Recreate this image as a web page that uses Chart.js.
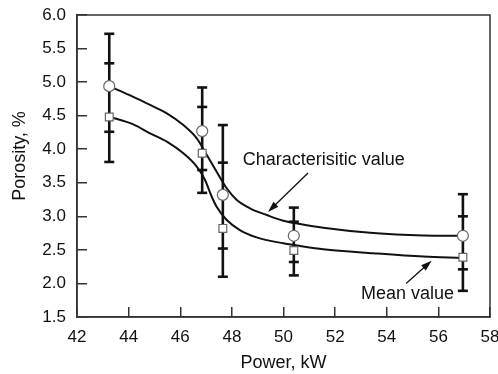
<!DOCTYPE html>
<html>
<head>
<meta charset="utf-8">
<script src="https://cdn.jsdelivr.net/npm/chart.js@4.4.1/dist/chart.umd.min.js"></script>
<style>
  html, body { margin: 0; padding: 0; background: #fff; }
  #wrap { width: 498px; height: 374px; }
</style>
</head>
<body>
<div id="wrap"><canvas id="chart" width="498" height="374"></canvas></div>
<script>
'use strict';

//
// Data
//

var power = [43.25, 46.85, 47.65, 50.4, 56.95];
var characteristic = [4.94, 4.27, 3.32, 2.71, 2.71];
var mean = [4.48, 3.94, 2.82, 2.49, 2.39];

// error bar ends
var charLow = [4.26, 3.69, 2.52, 2.32, 2.21];
var charHigh = [5.72, 4.92, 4.36, 3.13, 3.33];
var meanLow = [3.81, 3.35, 2.10, 2.12, 1.89];
var meanHigh = [5.28, 4.63, 3.80, 2.92, 3.00];

// fitted curves
var charCurveX = [43.24, 44.18, 44.83, 45.48, 46.12, 46.64, 47.03, 47.41, 47.80, 48.19, 48.70, 49.35, 49.99, 50.64, 51.54, 53.48, 55.42, 56.9];
var charCurve = [4.94, 4.78, 4.66, 4.535, 4.36, 4.163, 3.914, 3.665, 3.418, 3.243, 3.12, 3.02, 2.935, 2.886, 2.83, 2.75, 2.715, 2.71];
var meanCurveX = [43.24, 44.18, 44.83, 45.48, 46.12, 46.64, 46.96, 47.22, 47.41, 47.80, 48.31, 48.96, 49.99, 50.64, 51.54, 53.48, 55.42, 56.9];
var meanCurve = [4.485, 4.37, 4.237, 4.113, 3.939, 3.74, 3.541, 3.292, 3.143, 2.945, 2.796, 2.687, 2.598, 2.558, 2.51, 2.45, 2.40, 2.38];

var xTicks = [42, 44, 46, 48, 50, 52, 54, 56, 58];
var yTicks = [1.5, 2.0, 2.5, 3.0, 3.5, 4.0, 4.5, 5.0, 5.5, 6.0];

// annotations
var noteText = ['Characterisitic value', 'Mean value'];
var noteX = [48.42, 53.0];
var noteY = [3.765, 1.77];
var arrowFrom = [[50.95, 3.646], [54.75, 2.00]];
var arrowTo = [[49.40, 3.065], [55.74, 2.34]];

var FONT = "'Liberation Sans', Arial, sans-serif";
var INK = '#111';

function pts(xs, ys) {
	return xs.map(function(x, i) { return { x: x, y: ys[i] }; });
}

// markers on top, then curves, then error bars
var datasets = [
	{
		data: pts(power, characteristic),
		pointStyle: 'circle',
		pointRadius: 5.5,
		pointBorderWidth: 1.2,
		pointBorderColor: '#666',
		pointBackgroundColor: '#fff',
		showLine: false
	},
	{
		data: pts(power, mean),
		pointStyle: 'rect',
		pointRadius: 5.5,
		pointBorderWidth: 1.2,
		pointBorderColor: '#666',
		pointBackgroundColor: '#fff',
		showLine: false
	},
	{
		data: pts(charCurveX, charCurve),
		showLine: true,
		borderColor: INK,
		borderWidth: 2,
		pointRadius: 0,
		cubicInterpolationMode: 'monotone'
	},
	{
		data: pts(meanCurveX, meanCurve),
		showLine: true,
		borderColor: INK,
		borderWidth: 2,
		pointRadius: 0,
		cubicInterpolationMode: 'monotone'
	}
];

power.forEach(function(x, i) {
	var ys = [meanLow[i], charLow[i], meanHigh[i], charHigh[i]].sort(function(a, b) { return a - b; });
	datasets.push({
		data: ys.map(function(y) { return { x: x, y: y }; }),
		showLine: true,
		borderColor: INK,
		borderWidth: 2.6,
		pointStyle: 'line',
		pointRadius: 5,
		pointBorderWidth: 2.6,
		pointBorderColor: INK
	});
});

// frame, annotations and the y title
var extras = {
	id: 'extras',
	afterDatasetsDraw: function(chart) {
		var ctx = chart.ctx;
		var a = chart.chartArea;
		var sx = chart.scales.x, sy = chart.scales.y;

		ctx.save();
		ctx.strokeStyle = '#333';
		ctx.lineWidth = 1.5;
		ctx.strokeRect(a.left, a.top, a.right - a.left, a.bottom - a.top);

		ctx.fillStyle = INK;
		ctx.strokeStyle = INK;
		ctx.font = '18px ' + FONT;
		ctx.textBaseline = 'alphabetic';
		ctx.textAlign = 'left';
		noteText.forEach(function(t, i) {
			ctx.fillText(t, sx.getPixelForValue(noteX[i]), sy.getPixelForValue(noteY[i]));

			var x0 = sx.getPixelForValue(arrowFrom[i][0]), y0 = sy.getPixelForValue(arrowFrom[i][1]);
			var x1 = sx.getPixelForValue(arrowTo[i][0]), y1 = sy.getPixelForValue(arrowTo[i][1]);
			var ang = Math.atan2(y1 - y0, x1 - x0);
			var len = 11, hw = 3.5;
			ctx.lineWidth = 1.3;
			ctx.beginPath();
			ctx.moveTo(x0, y0);
			ctx.lineTo(x1 - Math.cos(ang) * len * 0.8, y1 - Math.sin(ang) * len * 0.8);
			ctx.stroke();
			ctx.beginPath();
			ctx.moveTo(x1, y1);
			ctx.lineTo(x1 - Math.cos(ang) * len + Math.sin(ang) * hw, y1 - Math.sin(ang) * len - Math.cos(ang) * hw);
			ctx.lineTo(x1 - Math.cos(ang) * len - Math.sin(ang) * hw, y1 - Math.sin(ang) * len + Math.cos(ang) * hw);
			ctx.closePath();
			ctx.fill();
		});

		ctx.translate(20, 156);
		ctx.rotate(-Math.PI / 2);
		ctx.textAlign = 'center';
		ctx.textBaseline = 'middle';
		ctx.fillText('Porosity, %', 0, 0);
		ctx.restore();
	}
};

new Chart(document.getElementById('chart'), {
	type: 'scatter',
	data: { datasets: datasets },
	plugins: [extras],
	options: {
		responsive: false,
		animation: false,
		events: [],
		layout: { padding: { left: 0, top: 15, right: 8, bottom: 0 } },
		plugins: {
			legend: { display: false },
			tooltip: { enabled: false }
		},
		scales: {
			x: {
				type: 'linear',
				min: 42,
				max: 58,
				afterBuildTicks: function(s) { s.ticks = xTicks.map(function(v) { return { value: v }; }); },
				afterFit: function(s) { s.height = 57; s.paddingLeft = 0; s.paddingRight = 0; },
				grid: { drawOnChartArea: false, tickLength: -10, color: '#333', lineWidth: 1.5 },
				border: { display: true, color: '#333', width: 1.5 },
				ticks: { color: INK, font: { family: FONT, size: 17 }, padding: 20, maxRotation: 0 },
				title: { display: true, text: 'Power, kW', color: INK, font: { family: FONT, size: 18 }, padding: { top: 0, bottom: 0 } }
			},
			y: {
				type: 'linear',
				min: 1.5,
				max: 6.0,
				afterBuildTicks: function(s) { s.ticks = yTicks.map(function(v) { return { value: v }; }); },
				afterFit: function(s) { s.width = 77; s.paddingTop = 0; s.paddingBottom = 0; },
				grid: { drawOnChartArea: false, tickLength: -10, color: '#333', lineWidth: 1.5 },
				border: { display: true, color: '#333', width: 1.5 },
				ticks: {
					color: INK,
					font: { family: FONT, size: 17 },
					padding: 21,
					callback: function(v) { return v.toFixed(1); }
				}
			}
		}
	}
});
</script>
</body>
</html>
